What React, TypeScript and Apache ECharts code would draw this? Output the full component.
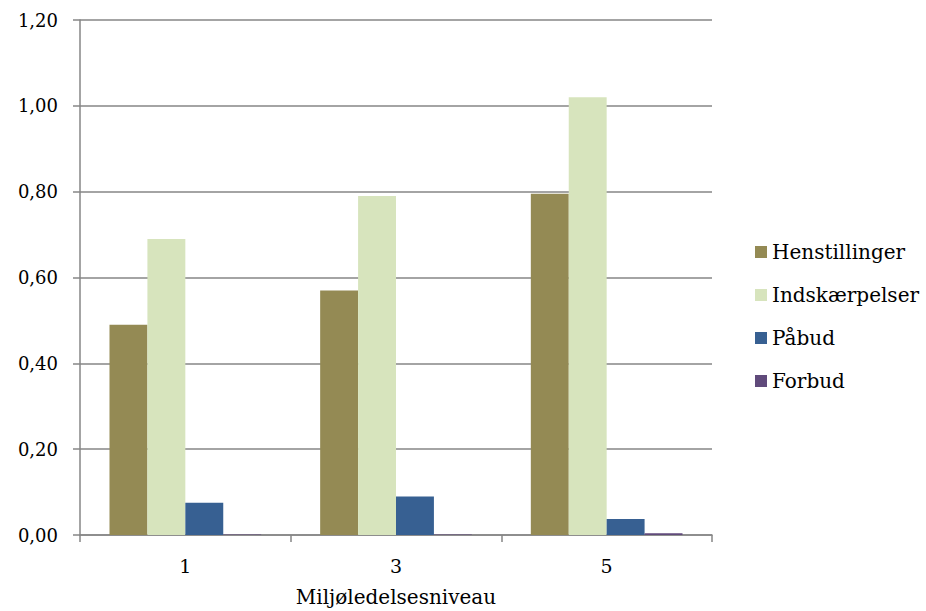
import React, { useEffect, useRef } from "react";
import * as echarts from "echarts";

const categories = ["1", "3", "5"];
const henstillinger = [0.49, 0.57, 0.795];
const indskaerpelser = [0.69, 0.79, 1.02];
const paabud = [0.075, 0.09, 0.037];
const forbud = [0.001, 0.001, 0.004];
const seriesNames = ["Henstillinger", "Indskærpelser", "Påbud", "Forbud"];
const colors = ["#948A54", "#D7E4BD", "#376092", "#604A7B"];

const FONT = "'DejaVu Serif', serif";

export default function App() {
  const ref = useRef<HTMLDivElement>(null);
  useEffect(() => {
    if (!ref.current) return;
    const chart = echarts.init(ref.current, undefined, { renderer: "svg" });
    const data = [henstillinger, indskaerpelser, paabud, forbud];
    chart.setOption({
      animation: false,
      backgroundColor: "#fff",
      textStyle: { fontFamily: FONT, color: "#000" },
      grid: { left: 80, right: 214, top: 20, bottom: 76, outerBoundsMode: "none", containLabel: false },
      legend: {
        orient: "vertical",
        left: 750,
        top: 237,
        itemWidth: 12,
        itemHeight: 12,
        itemGap: 23,
        icon: "rect",
        textStyle: { fontFamily: FONT, fontSize: 20, color: "#000" },
        data: seriesNames,
      },
      xAxis: {
        type: "category",
        data: categories,
        name: "Miljøledelsesniveau",
        nameLocation: "middle",
        nameGap: 52,
        nameTextStyle: { fontFamily: FONT, fontSize: 20, color: "#000" },
        axisLine: { lineStyle: { color: "#868686", width: 1.5 } },
        axisTick: { show: true, length: 7, lineStyle: { color: "#868686", width: 1.5 } },
        axisLabel: { fontFamily: FONT, fontSize: 19, color: "#000", margin: 21 },
      },
      yAxis: {
        type: "value",
        min: 0,
        max: 1.2,
        interval: 0.2,
        axisLine: { show: true, lineStyle: { color: "#868686", width: 1.5 } },
        axisTick: { show: true, length: 7, lineStyle: { color: "#868686", width: 1.5 } },
        splitLine: { lineStyle: { color: "#868686", width: 1.5 } },
        axisLabel: {
          fontFamily: FONT,
          fontSize: 18,
          color: "#000",
          margin: 22,
          formatter: (v: number) => v.toFixed(2).replace(".", ","),
        },
      },
      series: seriesNames.map((name, i) => ({
        name,
        type: "bar",
        data: data[i],
        itemStyle: { color: colors[i] },
        barGap: "0%",
        barCategoryGap: "28%",
      })),
    });
    return () => chart.dispose();
  }, []);
  return (
    <div
      ref={ref}
      style={{ position: "fixed", left: 0, top: 0, width: 926, height: 611 }}
    />
  );
}
